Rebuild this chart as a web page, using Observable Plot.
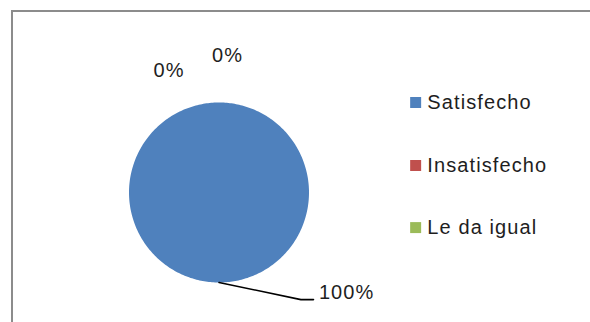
<!DOCTYPE html>
<html>
<head>
<meta charset="utf-8">
<script src="https://cdn.jsdelivr.net/npm/d3@7"></script>
<script src="https://cdn.jsdelivr.net/npm/@observablehq/plot@0.6"></script>
<style>
  html, body { margin: 0; padding: 0; background: #fff; }
  #wrap { position: relative; width: 590px; height: 322px; overflow: hidden; }
  #frame { position: absolute; left: 11px; top: 10px; right: -5px; bottom: -5px;
           border-top: 2px solid #8c8c8c; border-left: 2px solid #8c8c8c; pointer-events: none; }
</style>
</head>
<body>
<div id="wrap"><div id="frame"></div></div>
<script>
const categories = ["Satisfecho", "Insatisfecho", "Le da igual"];
const values = [100, 0, 0];
const colors = ["#4F81BD", "#C0504D", "#9BBB59"];
const pctLabels = ["100%", "0%", "0%"];

// pie geometry from data (angles measured clockwise from 12 o'clock)
const arcs = d3.pie().sort(null).startAngle(0).endAngle(2 * Math.PI)(values);
const slicePts = [];
arcs.forEach((a, i) => {
  const n = Math.max(2, Math.ceil((a.endAngle - a.startAngle) / (Math.PI / 180)));
  slicePts.push({cat: categories[i], x: 0, y: 0});
  for (let k = 0; k <= n; k++) {
    const t = a.startAngle + (a.endAngle - a.startAngle) * k / n;
    slicePts.push({cat: categories[i], x: Math.sin(t), y: Math.cos(t)});
  }
});

// label layout (in pie-radius units)
const mid0 = (arcs[0].startAngle + arcs[0].endAngle) / 2;
const leader = [
  {x: Math.sin(mid0), y: Math.cos(mid0)},
  {x: 0.91, y: -1.19},
  {x: 1.05, y: -1.19}
];
const labelPlaces = [
  {x: 1.11, y: -1.11},
  {x: -0.555, y: 1.36},
  {x: 0.095, y: 1.52}
];
const labelRows = pctLabels.map((t, i) => ({text: t, ...labelPlaces[i]}));

const legendYs = [1.0, 0.3, -0.39];
const legendRows = categories.map((c, i) => ({cat: c, y: legendYs[i]}));

const font = "'Liberation Sans', Arial, sans-serif";

const chart = Plot.plot({
  width: 590,
  height: 322,
  margin: 0,
  style: {fontFamily: font, background: "transparent", letterSpacing: "1.1px"},
  x: {domain: [-1, 1], range: [128.5, 308.5], axis: null},
  y: {domain: [-1, 1], range: [282, 102], axis: null},
  color: {domain: categories, range: colors},
  marks: [
    Plot.line(slicePts, {x: "x", y: "y", z: "cat", fill: "cat", stroke: "none", curve: "linear-closed"}),
    Plot.line(leader, {x: "x", y: "y", stroke: "#000", strokeWidth: 1.6}),
    Plot.text(labelRows.slice(0, 1), {x: "x", y: "y", text: "text", textAnchor: "start", fontSize: 20, fill: "#1e1e1e"}),
    Plot.text(labelRows.slice(1), {x: "x", y: "y", text: "text", textAnchor: "middle", fontSize: 20, fill: "#1e1e1e"}),
    Plot.dot(legendRows, {x: 2.185, y: "y", fill: "cat", symbol: "square", r: 6.2, stroke: "none"}),
    Plot.text(legendRows, {x: 2.315, y: "y", text: "cat", textAnchor: "start", fontSize: 20, fill: "#1e1e1e"})
  ]
});
document.getElementById("wrap").prepend(chart);
</script>
</body>
</html>
